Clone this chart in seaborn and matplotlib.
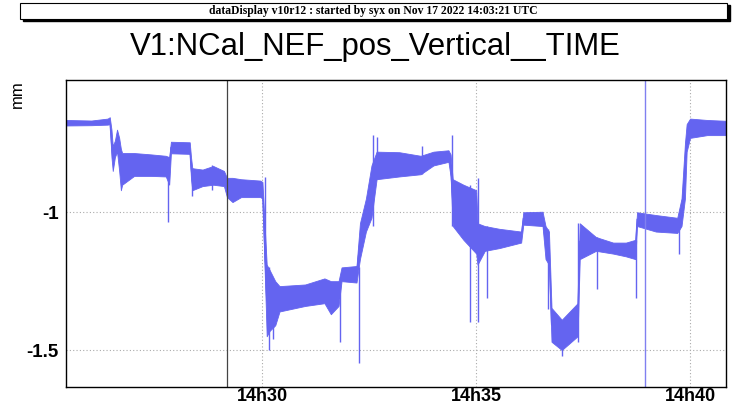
import numpy as np
import pandas as pd
import matplotlib
matplotlib.use("Agg")
import matplotlib.pyplot as plt
import seaborn as sns
from matplotlib.ticker import MultipleLocator, FixedLocator, FixedFormatter
from matplotlib.patches import Rectangle

sns.set_theme(style="white")
plt.rcParams['font.family'] = ['Liberation Sans', 'DejaVu Sans']
plt.rcParams['text.color'] = 'black'
plt.rcParams['xtick.color'] = 'black'
plt.rcParams['ytick.color'] = 'black'

# ---- data (time in minutes after 14:00, value in mm) ----
env_t = [25.40, 26.00, 26.38, 26.43, 26.47, 26.50, 26.55, 26.60, 26.65, 26.69, 26.72,
         27.00, 27.40, 27.74, 27.82, 27.86, 28.30, 28.33, 28.36, 28.60, 28.85, 29.10,
         29.17, 29.30, 29.50, 29.95, 30.00, 30.10, 30.17, 30.30, 30.40, 31.00, 31.45,
         31.60, 31.78, 31.85, 32.20, 32.28, 32.42, 32.55, 32.67, 33.20, 33.70, 34.00,
         34.35, 34.40, 34.45, 34.70, 35.00, 35.03, 35.20, 35.54, 36.05, 36.10, 36.55,
         36.62, 36.70, 36.76, 37.00, 37.37, 37.42, 37.80, 38.20, 38.50, 38.72, 38.76,
         39.20, 39.70, 39.80, 39.88, 39.92, 40.00, 40.40, 40.84]
env_hi = [-0.665, -0.667, -0.660, -0.655, -0.700, -0.760, -0.740, -0.700, -0.730, -0.770, -0.785,
          -0.785, -0.790, -0.795, -0.800, -0.744, -0.746, -0.800, -0.840, -0.845, -0.832, -0.850,
          -0.875, -0.875, -0.880, -0.885, -0.890, -1.190, -1.210, -1.250, -1.268, -1.262, -1.240,
          -1.250, -1.250, -1.200, -1.195, -1.040, -0.950, -0.830, -0.780, -0.782, -0.795, -0.780,
          -0.775, -0.790, -0.880, -0.900, -0.920, -1.040, -1.050, -1.060, -1.070, -1.000, -0.998,
          -1.050, -1.070, -1.347, -1.390, -1.330, -1.040, -1.090, -1.110, -1.110, -1.100, -1.000,
          -1.010, -1.020, -0.950, -0.750, -0.680, -0.660, -0.665, -0.668]
env_lo = [-0.685, -0.684, -0.682, -0.680, -0.800, -0.850, -0.800, -0.780, -0.850, -0.920, -0.900,
          -0.868, -0.868, -0.870, -0.900, -0.786, -0.788, -0.880, -0.920, -0.905, -0.900, -0.905,
          -0.945, -0.963, -0.945, -0.945, -0.950, -1.450, -1.430, -1.410, -1.360, -1.340, -1.330,
          -1.370, -1.340, -1.250, -1.255, -1.170, -1.070, -1.020, -0.880, -0.870, -0.862, -0.830,
          -0.817, -0.870, -1.050, -1.100, -1.150, -1.190, -1.140, -1.130, -1.110, -1.045, -1.050,
          -1.170, -1.190, -1.470, -1.500, -1.450, -1.170, -1.140, -1.150, -1.160, -1.170, -1.050,
          -1.070, -1.075, -1.050, -0.950, -0.780, -0.730, -0.720, -0.720]

spike_t = [27.79, 28.36, 28.82, 30.05, 30.15, 30.25, 31.81, 32.25, 32.58, 32.68, 33.72,
           34.43, 34.85, 35.03, 35.25, 36.68, 37.00, 37.39, 37.83, 38.73, 39.75]
spike_lo = [-1.034, -0.94, -0.92, -1.18, -1.50, -1.46, -1.471, -1.547, -1.05, -0.88, -0.86,
            -1.05, -1.40, -1.40, -1.31, -1.35, -1.52, -1.47, -1.28, -1.31, -1.15]
spike_hi = [-0.80, -0.84, -0.83, -0.872, -1.20, -1.25, -1.25, -1.20, -0.719, -0.727, -0.759,
            -0.719, -0.90, -0.877, -1.05, -1.06, -1.40, -1.04, -1.09, -1.10, -1.02]

marker_dark_t = 29.17
marker_blue_t = 38.95

xtick_pos = [30, 35, 40]
xtick_labels = ["14h30", "14h35", "14h40"]
ytick_pos = [-1.5, -1.0]
ytick_labels = ["-1.5", "-1"]

title = "V1:NCal_NEF_pos_Vertical__TIME"
banner = "dataDisplay v10r12 : started by syx on Nov 17 2022 14:03:21 UTC"

df = pd.DataFrame({
    "t": env_t + env_t,
    "v": env_hi + env_lo,
})

color = "#6464f0"

fig = plt.figure(figsize=(7.51, 4.07), dpi=100)
ax = fig.add_axes([0.0875, 0.0499, 0.9667 - 0.0875, 0.8034 - 0.0499])

sns.lineplot(data=df, x="t", y="v", estimator="mean", errorbar=("pi", 100),
             color=color, linewidth=0.8, err_kws={"alpha": 1.0, "linewidth": 0.6, "edgecolor": color},
             ax=ax)
ax.vlines(spike_t, spike_lo, spike_hi, color=color, linewidth=1.0)
ax.axvline(marker_dark_t, color="#444444", linewidth=0.9)
ax.axvline(marker_blue_t, color="#8080f0", linewidth=1.0)

ax.set_xlim(25.40, 40.84)
ax.set_ylim(-1.633, -0.520)

# grid at major ticks
for xp in xtick_pos:
    ax.axvline(xp, color="#aaaaaa", linestyle=(0, (1, 2)), linewidth=0.8, zorder=0)
for yp in ytick_pos:
    ax.axhline(yp, color="#aaaaaa", linestyle=(0, (1, 2)), linewidth=0.8, zorder=0)

ax.xaxis.set_major_locator(FixedLocator(xtick_pos))
ax.xaxis.set_major_formatter(FixedFormatter(xtick_labels))
ax.xaxis.set_minor_locator(MultipleLocator(1))
ax.yaxis.set_major_locator(FixedLocator(ytick_pos))
ax.yaxis.set_major_formatter(FixedFormatter(ytick_labels))
ax.yaxis.set_minor_locator(MultipleLocator(0.1))

ax.tick_params(axis="both", which="both", direction="in", color="black", labelcolor="black", width=1)
ax.tick_params(axis="y", which="major", length=16, pad=5, labelsize=13.5)
ax.tick_params(axis="y", which="minor", length=8)
ax.tick_params(axis="x", which="major", length=9, pad=1, labelsize=13)
ax.tick_params(axis="x", which="minor", length=5)
for lab in ax.get_xticklabels() + ax.get_yticklabels():
    lab.set_fontweight("bold")
ax.set_xlabel("")
ax.set_ylabel("")

for s in ax.spines.values():
    s.set_visible(True)
    s.set_color("black")
    s.set_linewidth(1.0)

fig.text(17 / 751, 1 - 80 / 407, "mm", rotation=90, ha="center", va="top", fontsize=12, color="black")
fig.text(0.5, 1 - 47 / 407, title, ha="center", va="center", fontsize=22.4, color="black")

# banner box with shadow
shadow = Rectangle((23 / 751, 1 - 21 / 407), 707 / 751, 16 / 407, transform=fig.transFigure,
                   facecolor="black", edgecolor="black")
box = Rectangle((20 / 751, 1 - 19 / 407), 707 / 751, 16 / 407, transform=fig.transFigure,
                facecolor="white", edgecolor="black", linewidth=0.8)
fig.patches.extend([shadow, box])
fig.text(373 / 751, 1 - 11 / 407, banner, ha="center", va="center", fontsize=8.4,
         fontweight="bold", family=["Liberation Serif", "DejaVu Serif"], color="black")

fig.savefig("out.png", dpi=100)
